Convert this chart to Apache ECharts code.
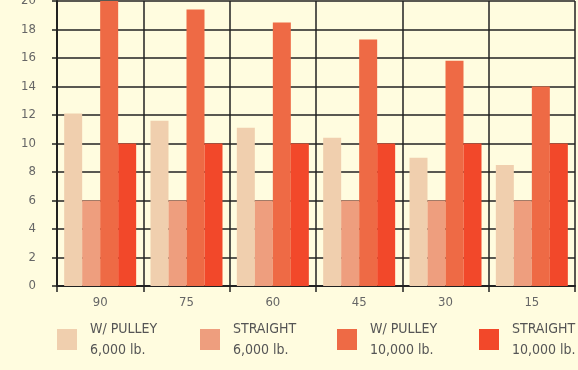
<!DOCTYPE html>
<html><head><meta charset="utf-8">
<script src="https://cdn.jsdelivr.net/npm/echarts@6/dist/echarts.min.js"></script>
<style>html,body{margin:0;padding:0;background:#FFFCDF;}#c{width:578px;height:370px;}</style>
</head><body><div id="c"></div>
<script>
const categories = ['90', '75', '60', '45', '30', '15'];
const pulley6000 = [12.1, 11.6, 11.1, 10.4, 9.0, 8.5];
const straight6000 = [6, 6, 6, 6, 6, 6];
const pulley10000 = [20, 19.4, 18.5, 17.3, 15.8, 14.0];
const straight10000 = [10, 10, 10, 10, 10, 10];
const seriesNames = ['W/ PULLEY\n6,000 lb.', 'STRAIGHT\n6,000 lb.', 'W/ PULLEY\n10,000 lb.', 'STRAIGHT\n10,000 lb.'];
const seriesColors = ['#F0CFAE', '#EE9E7E', '#EE6A45', '#F2482A'];
const seriesData = [pulley6000, straight6000, pulley10000, straight10000];
const yTicks = [0, 2, 4, 6, 8, 10, 12, 14, 16, 18, 20];

const FONT = '"Liberation Sans Narrow", "DejaVu Sans Condensed", sans-serif';
const legendX = [57, 200, 337, 479];

const chart = echarts.init(document.getElementById('c'));
chart.setOption({
  backgroundColor: '#FFFCDF',
  animation: false,
  grid: { left: 57, right: 3, top: 1, bottom: 84, outerBoundsMode: 'none', containLabel: false },
  legend: seriesNames.map((n, i) => ({
    data: [n], left: legendX[i], top: 309, itemWidth: 20, itemHeight: 21, itemGap: 0,
    icon: 'rect', padding: 0,
    textStyle: { fontFamily: FONT, fontSize: 14, color: '#555', lineHeight: 21, padding: [19, 0, 0, 8] },
    selectedMode: false
  })),
  xAxis: {
    type: 'category', data: categories,
    axisLine: { lineStyle: { color: '#222', width: 2 } },
    axisTick: { show: true, length: 6, lineStyle: { color: '#222', width: 1.5 } },
    axisLabel: { fontFamily: FONT, fontSize: 13, color: '#666', margin: 10 },
    splitLine: { show: true, lineStyle: { color: '#222', width: 1.5 } }
  },
  yAxis: {
    type: 'value', min: 0, max: 20, interval: 2,
    axisLine: { show: true, lineStyle: { color: '#222', width: 2 } },
    axisTick: { show: true, length: 5, lineStyle: { color: '#222', width: 1.5 } },
    axisLabel: { fontFamily: FONT, fontSize: 13, color: '#666', margin: 21,
      formatter: v => yTicks.includes(v) ? String(v) : '' },
    splitLine: { lineStyle: { color: '#222', width: 1.5 } }
  },
  series: seriesNames.map((n, i) => ({
    name: n, type: 'bar', data: seriesData[i], barWidth: 18, barGap: '0%',
    itemStyle: { color: seriesColors[i] }
  }))
});
</script></body></html>
